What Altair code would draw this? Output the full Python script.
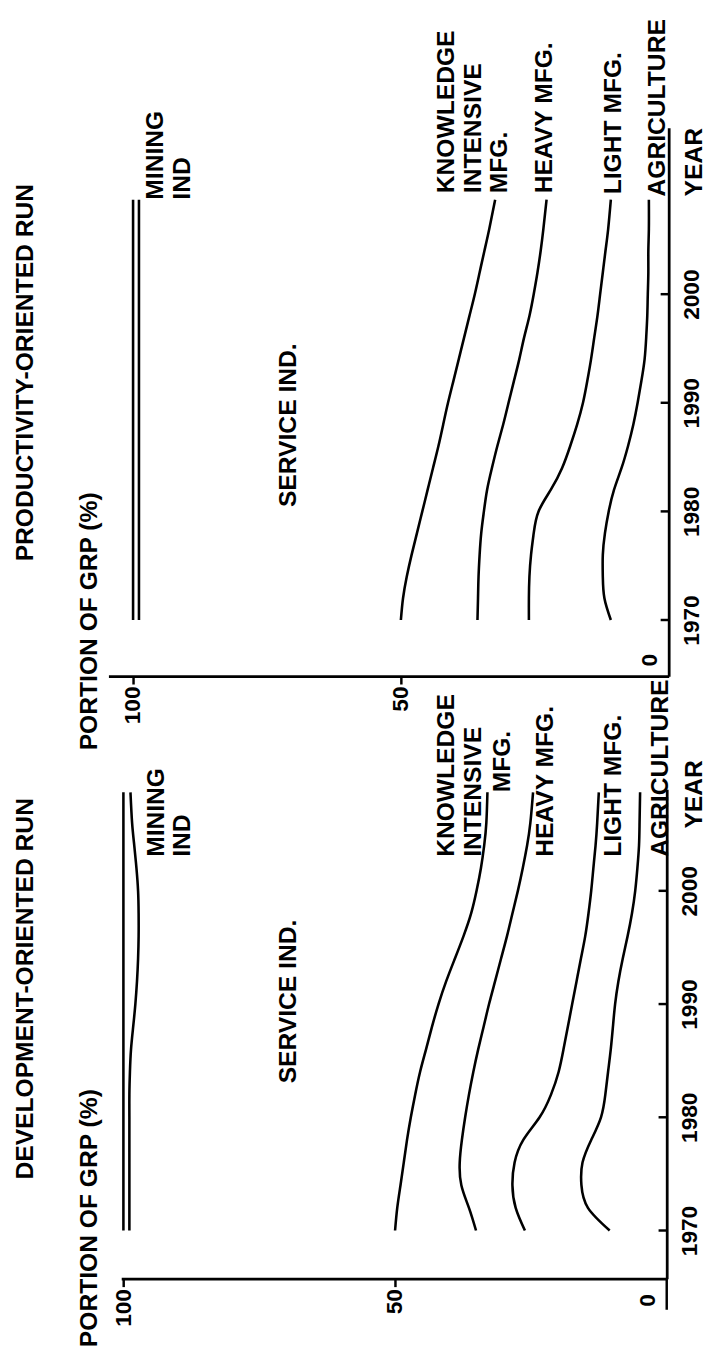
import altair as alt
import pandas as pd

# ---------------- data ----------------
YEARS = [1970, 1972, 1974, 1976, 1978, 1980, 1982, 1984, 1986, 1988,
         1990, 1992, 1994, 1996, 1998, 2000, 2002, 2004, 2006, 2008.7]

# Productivity-oriented run: sector boundary lines, portion of GRP (%)
P_MINING_TOP = [100.0, 100.0, 100.0, 100.0, 100.0, 100.0, 100.0, 100.0, 100.0, 100.0,
                100.0, 100.0, 100.0, 100.0, 100.0, 100.0, 100.0, 100.0, 100.0, 100.0]
P_MINING_BOTTOM = [98.9, 98.9, 98.9, 98.9, 98.9, 98.9, 98.9, 98.9, 98.9, 98.9,
                   98.9, 98.9, 98.9, 98.9, 98.9, 98.9, 98.9, 98.9, 98.9, 98.9]
P_KNOWLEDGE_TOP = [50.0, 49.6, 48.9, 48.0, 47.0, 46.0, 45.0, 44.0, 43.0, 42.1,
                   41.2, 40.2, 39.2, 38.2, 37.2, 36.2, 35.3, 34.4, 33.5, 32.4]
P_HEAVY_TOP = [35.7, 35.6, 35.5, 35.3, 35.0, 34.5, 33.9, 33.0, 32.0, 30.9,
               29.9, 28.9, 27.9, 27.0, 26.0, 25.2, 24.5, 23.9, 23.4, 22.8]
P_LIGHT_TOP = [26.1, 26.1, 26.0, 25.7, 25.2, 24.3, 22.0, 19.9, 18.4, 17.1,
               16.0, 15.2, 14.5, 13.9, 13.3, 12.8, 12.3, 11.8, 11.3, 10.8]
P_AGRI_TOP = [10.8, 12.0, 12.3, 12.3, 11.9, 11.2, 10.2, 8.8, 7.6, 6.6,
              5.8, 5.1, 4.5, 4.2, 4.0, 3.9, 3.8, 3.8, 3.7, 3.7]

# Development-oriented run
D_MINING_TOP = [100.0, 100.0, 100.0, 100.0, 100.0, 100.0, 100.0, 100.0, 100.0, 100.0,
                100.0, 100.0, 100.0, 100.0, 100.0, 100.0, 100.0, 100.0, 100.0, 100.0]
D_MINING_BOTTOM = [98.9, 98.9, 98.9, 98.9, 98.9, 98.9, 98.9, 98.8, 98.6, 98.2,
                   97.8, 97.5, 97.3, 97.2, 97.2, 97.3, 97.6, 98.0, 98.4, 98.7]
D_KNOWLEDGE_TOP = [50.0, 49.6, 49.0, 48.4, 47.8, 47.1, 46.3, 45.4, 44.3, 43.2,
                   42.0, 40.6, 39.0, 37.4, 36.0, 35.0, 34.2, 33.6, 33.2, 33.0]
D_HEAVY_TOP = [35.1, 36.4, 37.8, 38.1, 37.7, 37.1, 36.4, 35.6, 34.7, 33.7,
               32.7, 31.6, 30.5, 29.4, 28.4, 27.4, 26.5, 25.7, 25.1, 24.6]
D_LIGHT_TOP = [26.1, 27.8, 28.4, 28.0, 26.4, 23.4, 21.3, 19.9, 19.0, 18.2,
               17.4, 16.6, 15.8, 15.0, 14.4, 13.9, 13.5, 13.1, 12.8, 12.5]
D_AGRI_TOP = [10.5, 14.5, 15.7, 15.5, 13.9, 12.1, 11.3, 10.8, 10.3, 9.9,
              9.5, 8.9, 8.1, 7.2, 6.4, 5.8, 5.4, 5.1, 5.0, 4.9]

YEAR_TICKS = [1970, 1980, 1990, 2000]
PORTION_TICKS = [100, 50]

P_TEXTS = ["MINING\nIND", "SERVICE IND.", "KNOWLEDGE\nINTENSIVE\nMFG.",
           "HEAVY MFG.", "LIGHT MFG.", "AGRICULTURE", "YEAR",
           "PORTION OF GRP (%)", "PRODUCTIVITY-ORIENTED RUN"]
D_TEXTS = ["MINING\nIND", "SERVICE IND.", "KNOWLEDGE\nINTENSIVE", "MFG.",
           "HEAVY MFG.", "LIGHT MFG.", "AGRICULTURE", "YEAR",
           "PORTION OF GRP (%)", "DEVELOPMENT-ORIENTED RUN"]

# annotation anchors (portion %, year) for each panel
P_LABEL_X = [98.0, 73.3, 43.75, 25.4, 12.5, 4.4, -2.6, 110.5, 122.4]
P_LABEL_Y = [2008.7, 1980.4, 2009.3, 2009.3, 2009.2, 2009.0, 2009.0, 1958.0, 1975.4]
D_LABEL_X = [96.2, 71.9, 42.75, 32.5, 24.6, 12.0, 3.4, -2.9, 108.5, 120.3]
D_LABEL_Y = [2003.0, 1983.0, 2003.0, 2008.7, 2003.0, 2003.0, 2003.0, 2005.5, 1959.7, 1974.5]

FONT = "Liberation Sans"


def long_table(series):
    rows = []
    for name, vals in series.items():
        for yr, v in zip(YEARS, vals):
            rows.append({"series": name, "year": yr, "value": v})
    return pd.DataFrame(rows)


def panel(series, texts, lab_x, lab_y, x_domain, x_range, width,
          y_domain, height, zero_pos, bottom_zero_tick):
    df = long_table(series)
    xs = alt.Scale(domain=x_domain, range=x_range, nice=False, zero=False)
    ys = alt.Scale(domain=y_domain, nice=False, zero=False)

    lines = alt.Chart(df).mark_line(
        color="black", strokeWidth=2.6, interpolate="natural"
    ).encode(
        x=alt.X("value:Q", scale=xs, title=None, axis=alt.Axis(
            values=PORTION_TICKS, orient="bottom", title=None, grid=False,
            tickSize=8, labelAngle=270, labelAlign="right",
            labelBaseline="middle", labelPadding=2, labelFlush=False,
            labelOverlap=False)),
        y=alt.Y("year:Q", scale=ys, title=None, axis=alt.Axis(
            values=YEAR_TICKS, orient="right", title=None, grid=False,
            ticks=False, tickSize=0, labelAngle=270, labelAlign="center",
            labelBaseline="top", labelPadding=12, labelFlush=False,
            labelOverlap=False, format="d")),
        detail="series:N",
        order="year:Q",
    )

    tick_df = pd.DataFrame({"year": YEAR_TICKS,
                            "x0": [0] * len(YEAR_TICKS),
                            "x1": [1.5] * len(YEAR_TICKS)})
    ticks = alt.Chart(tick_df).mark_rule(color="black", strokeWidth=2.5).encode(
        x=alt.X("x0:Q", scale=xs, title=None),
        x2="x1:Q",
        y=alt.Y("year:Q", scale=ys, title=None),
    )

    lab_df = pd.DataFrame({"text": texts, "x": lab_x, "y": lab_y})
    labels = alt.Chart(lab_df).mark_text(
        angle=270, align="left", baseline="top", lineBreak="\n",
        lineHeight=27, fontSize=25, font=FONT, fontWeight="bold",
        color="black"
    ).encode(
        x=alt.X("x:Q", scale=xs, title=None),
        y=alt.Y("y:Q", scale=ys, title=None),
        text="text:N",
    )

    zero_df = pd.DataFrame({"text": ["0"], "x": [zero_pos[0]], "y": [zero_pos[1]]})
    zero = alt.Chart(zero_df).mark_text(
        angle=270, align="center", baseline="middle", fontSize=23,
        font=FONT, fontWeight="bold", color="black"
    ).encode(
        x=alt.X("x:Q", scale=xs, title=None),
        y=alt.Y("y:Q", scale=ys, title=None),
        text="text:N",
    )

    layers = [lines, ticks, labels, zero]
    if bottom_zero_tick:
        ext_df = pd.DataFrame({"x": [0], "y0": [1963.0], "y1": [y_domain[0]]})
        ext = alt.Chart(ext_df).mark_rule(color="black", strokeWidth=2.5).encode(
            x=alt.X("x:Q", scale=xs, title=None),
            y=alt.Y("y0:Q", scale=ys, title=None),
            y2="y1:Q",
        )
        layers.append(ext)

    return alt.layer(*layers).properties(width=width, height=height)


top = panel(
    {"mining_top": P_MINING_TOP, "mining_bottom": P_MINING_BOTTOM,
     "knowledge_top": P_KNOWLEDGE_TOP, "heavy_top": P_HEAVY_TOP,
     "light_top": P_LIGHT_TOP, "agri_top": P_AGRI_TOP},
    P_TEXTS, P_LABEL_X, P_LABEL_Y,
    x_domain=[104.6, 0], x_range=[0, 569], width=569,
    y_domain=[1964.83, 2015.33], height=557,
    zero_pos=(3.5, 1966.3), bottom_zero_tick=False,
)

bottom = panel(
    {"mining_top": D_MINING_TOP, "mining_bottom": D_MINING_BOTTOM,
     "knowledge_top": D_KNOWLEDGE_TOP, "heavy_top": D_HEAVY_TOP,
     "light_top": D_LIGHT_TOP, "agri_top": D_AGRI_TOP},
    D_TEXTS, D_LABEL_X, D_LABEL_Y,
    x_domain=[100.4, 0], x_range=[13, 567], width=567,
    y_domain=[1965.74, 2008.96], height=497,
    zero_pos=(3.44, 1963.83), bottom_zero_tick=True,
)

chart = alt.vconcat(top, bottom, spacing=115, bounds="flush").properties(
    padding={"left": 5, "top": 0, "right": 5, "bottom": 5}
).configure_view(stroke=None).configure_axis(
    domainColor="black", domainWidth=2.8, tickColor="black", tickWidth=2.5,
    labelColor="black", labelFont=FONT, labelFontSize=23,
    labelFontWeight="bold",
)

chart.save("out.html", embed_options={"renderer": "svg", "actions": False})
